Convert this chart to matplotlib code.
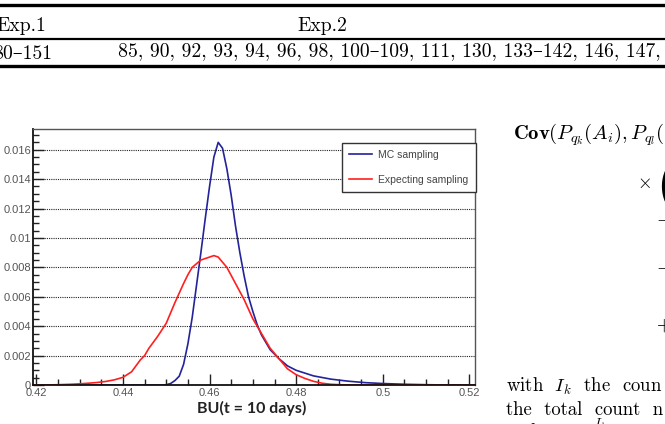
import matplotlib
matplotlib.use('Agg')
import matplotlib.pyplot as plt
from matplotlib.lines import Line2D
from matplotlib.ticker import MultipleLocator, FuncFormatter

# values
bu_mc = [0.4193, 0.449, 0.450, 0.451, 0.452, 0.453, 0.454, 0.455, 0.456, 0.457,
         0.458, 0.459, 0.460, 0.461, 0.462, 0.463, 0.464, 0.465, 0.466, 0.467,
         0.468, 0.469, 0.470, 0.471, 0.472, 0.474, 0.476, 0.478, 0.480, 0.484,
         0.488, 0.492, 0.496, 0.500, 0.505, 0.510, 0.515, 0.5213]
p_mc = [0, 0, 0.00002, 0.0001, 0.0003, 0.0006, 0.0014, 0.0028, 0.0046, 0.0068,
        0.0090, 0.0113, 0.0135, 0.0155, 0.0165, 0.0161, 0.0147, 0.0129, 0.0108, 0.0090,
        0.0074, 0.0060, 0.0050, 0.0041, 0.0034, 0.0024, 0.0018, 0.0013, 0.0010, 0.00062,
        0.00040, 0.00026, 0.00016, 0.00010, 0.00005, 0.00002, 0, 0]

bu_exp = [0.4193, 0.422, 0.425, 0.428, 0.430, 0.432, 0.434, 0.436, 0.438, 0.440,
          0.442, 0.444, 0.445, 0.446, 0.448, 0.450, 0.452, 0.454, 0.455, 0.456,
          0.458, 0.460, 0.461, 0.462, 0.464, 0.466, 0.468, 0.470, 0.472, 0.474,
          0.476, 0.478, 0.480, 0.482, 0.484, 0.486, 0.488, 0.490, 0.493, 0.5213]
p_exp = [0, 0, 0.00002, 0.00005, 0.00008, 0.00012, 0.00017, 0.00024, 0.00035, 0.00052,
         0.0009, 0.0017, 0.0020, 0.0025, 0.0033, 0.0042, 0.0056, 0.0069, 0.0075, 0.0080,
         0.0085, 0.0087, 0.0088, 0.0087, 0.0080, 0.0069, 0.0058, 0.0045, 0.0035, 0.0025,
         0.0018, 0.0011, 0.0007, 0.00045, 0.00025, 0.00012, 0.00005, 0.00002, 0, 0]

series_labels = ['MC sampling', 'Expecting sampling']
x_label = 'BU(t = 10 days)'

W, H = 665, 424
fig = plt.figure(figsize=(W / 100, H / 100), dpi=100)

def fx(px):
    return px / W

def fy(py):
    return 1 - py / H

# ---- surrounding page: table fragment at top ----
serif = ['cmr10', 'DejaVu Serif']
for y, lw in [(5.3, 2.4), (39, 1.6), (65.5, 2.4)]:
    fig.add_artist(Line2D([0, 1], [fy(y), fy(y)], color='black', lw=lw))
fig.text(fx(-4), fy(31), 'Exp.1', family=serif, fontsize=14.2, va='baseline', ha='left')
fig.text(fx(322), fy(31), 'Exp.2', family=serif, fontsize=14.2, va='baseline', ha='center')
fig.text(fx(-7), fy(59), '80–151', family=serif, fontsize=14.2, va='baseline', ha='left')
fig.text(fx(118), fy(56), '85, 90, 92, 93, 94, 96, 98, 100–109, 111, 130, 133–142, 146, 147,',
         family=serif, fontsize=14.2, va='baseline', ha='left')

# ---- surrounding page: equation / text on the right ----
plt.rcParams['mathtext.fontset'] = 'cm'
fig.text(fx(513), fy(135), r'$\mathbf{Cov}(P_{q_k}(A_i), P_{q_l}($', fontsize=14.8, va='center', ha='left')
fig.text(fx(637), fy(182), r'$\times$', fontsize=13.5, va='center', ha='left')
fig.text(fx(656), fy(186), '(', family=serif, fontsize=36, va='center', ha='left')
fig.text(fx(656), fy(218), r'$-$', fontsize=13.5, va='center', ha='left')
fig.text(fx(656), fy(266), r'$-$', fontsize=13.5, va='center', ha='left')
fig.text(fx(656), fy(325), r'$+$', fontsize=13.5, va='center', ha='left')
fig.text(fx(506), fy(386), r'with  $I_k$  the  coun', family=serif, fontsize=13.5, va='center', ha='left')
fig.text(fx(506), fy(410), 'the  total  count  n', family=serif, fontsize=13.5, va='center', ha='left')
fig.text(fx(506), fy(432), r'and  $P_{q_k} = \frac{I_k}{I}$', family=serif, fontsize=13.5, va='center', ha='left')

# ---- the chart ----
ax = fig.add_axes([fx(33.3), fy(385), fx(475 - 33.3), (385 - 129) / H])
ax.plot(bu_mc, p_mc, color='#23239a', lw=1.2, label=series_labels[0])
ax.plot(bu_exp, p_exp, color='#ff1f1f', lw=1.2, label=series_labels[1])

ax.set_xlim(0.4193, 0.5213)
ax.set_ylim(0, 0.01741)
ax.xaxis.set_major_locator(MultipleLocator(0.02))
ax.xaxis.set_minor_locator(MultipleLocator(0.005))
ax.yaxis.set_major_locator(MultipleLocator(0.002))
ax.yaxis.set_minor_locator(MultipleLocator(0.0005))
fmt = FuncFormatter(lambda v, p: '%g' % round(v, 4))
ax.xaxis.set_major_formatter(fmt)
ax.yaxis.set_major_formatter(fmt)
ax.tick_params(which='both', direction='in', top=False, right=False,
               labelsize=8, labelcolor='#555555', color='#222222')
ax.tick_params(which='major', length=8, width=1)
ax.tick_params(which='minor', length=4.5, width=1)
ax.tick_params(axis='y', pad=1.5)
ax.tick_params(axis='x', pad=2)
for lab in ax.get_xticklabels() + ax.get_yticklabels():
    lab.set_family('Liberation Sans')

ax.yaxis.grid(True, which='major', color='#222222', linestyle=(0, (1, 1)), lw=0.8)
ax.set_axisbelow(True)
for side in ['left', 'bottom']:
    ax.spines[side].set_color('#111111')
    ax.spines[side].set_linewidth(1.3)
for side in ['top', 'right']:
    ax.spines[side].set_color('#555555')
    ax.spines[side].set_linewidth(1.0)

leg = ax.legend(loc='upper left', bbox_to_anchor=(0.698, 0.9465), borderaxespad=0,
                fancybox=False, edgecolor='#333333', framealpha=1,
                prop={'family': 'Liberation Sans', 'size': 7.5},
                labelspacing=1.4, handlelength=2.2, borderpad=0.7, handletextpad=0.6)
leg.get_frame().set_linewidth(1.0)
for t in leg.get_texts():
    t.set_color('#444444')

fig.text(fx(252), fy(408), x_label, family='Lato', fontweight='bold', fontsize=11.5,
         va='center', ha='center', color='#222222')

fig.savefig('out.png', dpi=100)
